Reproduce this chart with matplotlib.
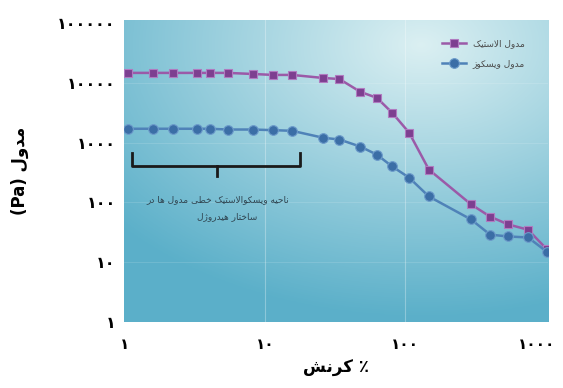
import numpy as np
import matplotlib
matplotlib.use("Agg")
import matplotlib.pyplot as plt
from matplotlib.transforms import ScaledTranslation

# strain sweep: strain (%) and the two moduli (Pa)
strain = [1.05, 1.58, 2.2, 3.27, 4.05, 5.4, 8.2, 11.4, 15.6, 26, 34, 48, 63, 81,
          107, 148, 296, 405, 544, 756, 1030]
elastic = [14700, 14700, 14700, 14700, 14700, 14700, 14100, 13600, 13600, 12100,
           11600, 7080, 5620, 3160, 1470, 355, 93, 58, 43, 35, 16.5]
viscous = [1710, 1710, 1710, 1710, 1710, 1660, 1660, 1620, 1580, 1210, 1130,
           860, 630, 400, 260, 126, 52, 29, 27, 26, 15]

x_ticks = [1, 10, 100, 1000]
x_tick_labels = ["۱", "۱۰", "۱۰۰", "۱۰۰۰"]
y_ticks = [1, 10, 100, 1000, 10000, 100000]
y_tick_labels = ["۱", "۱۰", "۱۰۰", "۱۰۰۰", "۱۰۰۰۰", "۱۰۰۰۰۰"]

series_names = ["مدول الاستیک", "مدول ویسکوز"]
note_lines = ["ناحیه ویسکوالاستیک خطی مدول ها در", "ساختار هیدروژل"]

# contextual forms: (isolated, final, initial, medial); two forms = joins only to the right
FORMS = {
    "ا": (0xFE8D, 0xFE8E), "ب": (0xFE8F, 0xFE90, 0xFE91, 0xFE92),
    "ت": (0xFE95, 0xFE96, 0xFE97, 0xFE98), "ح": (0xFEA1, 0xFEA2, 0xFEA3, 0xFEA4),
    "خ": (0xFEA5, 0xFEA6, 0xFEA7, 0xFEA8), "د": (0xFEA9, 0xFEAA),
    "ر": (0xFEAD, 0xFEAE), "ز": (0xFEAF, 0xFEB0), "ژ": (0xFB8A, 0xFB8B),
    "س": (0xFEB1, 0xFEB2, 0xFEB3, 0xFEB4), "ش": (0xFEB5, 0xFEB6, 0xFEB7, 0xFEB8),
    "ط": (0xFEC1, 0xFEC2, 0xFEC3, 0xFEC4), "ع": (0xFEC9, 0xFECA, 0xFECB, 0xFECC),
    "ف": (0xFED1, 0xFED2, 0xFED3, 0xFED4), "ق": (0xFED5, 0xFED6, 0xFED7, 0xFED8),
    "ک": (0xFB8E, 0xFB8F, 0xFB90, 0xFB91), "ل": (0xFEDD, 0xFEDE, 0xFEDF, 0xFEE0),
    "م": (0xFEE1, 0xFEE2, 0xFEE3, 0xFEE4), "ن": (0xFEE5, 0xFEE6, 0xFEE7, 0xFEE8),
    "و": (0xFEED, 0xFEEE), "ه": (0xFEE9, 0xFEEA, 0xFEEB, 0xFEEC),
    "ی": (0xFBFC, 0xFBFD, 0xFBFE, 0xFBFF),
}


def joins_next(c):
    return c in FORMS and len(FORMS[c]) == 4


def shape(text):
    out = []
    i = 0
    while i < len(text):
        c = text[i]
        if c not in FORMS:
            out.append(c)
            i += 1
            continue
        from_prev = i > 0 and joins_next(text[i - 1])
        if c == "ل" and i + 1 < len(text) and text[i + 1] == "ا":
            out.append(chr(0xFEFC if from_prev else 0xFEFB))
            i += 2
            continue
        to_next = joins_next(c) and i + 1 < len(text) and text[i + 1] in FORMS
        f = FORMS[c]
        if from_prev and to_next:
            g = f[3]
        elif from_prev:
            g = f[1]
        elif to_next:
            g = f[2]
        else:
            g = f[0]
        out.append(chr(g))
        i += 1
    return "".join(out)


def rtl(text):
    return shape(text)[::-1]


plt.rcParams["font.family"] = ["DejaVu Sans"]

fig = plt.figure(figsize=(5.63, 3.88), dpi=100)
ax = fig.add_axes([0.2202, 0.170, 0.7532, 0.778])

# soft blue panel, brighter toward the upper right
yy, xx = np.mgrid[0:1:200j, 0:1:300j]
t = np.clip(np.sqrt(((xx - 0.7) / 0.95) ** 2 + ((yy - 0.92) / 0.9) ** 2), 0, 1)
light = np.array([0.86, 0.94, 0.95])
dark = np.array([0.36, 0.69, 0.79])
bg = light * (1 - t[..., None]) + dark * t[..., None]
ax.imshow(bg, extent=[0, 1, 0, 1], transform=ax.transAxes, origin="lower",
          aspect="auto", zorder=0)

ax.set_xscale("log")
ax.set_yscale("log")
ax.set_xlim(0.984, 1050)
ax.set_ylim(1, 1.12e5)

for v in [10, 100]:
    ax.axvline(v, color="white", lw=0.8, alpha=0.3, zorder=1)
for v in [10, 100, 1000, 10000]:
    ax.axhline(v, color="white", lw=0.6, alpha=0.15, zorder=1)

ax.plot(strain, elastic, color="#9b5aa8", lw=1.8, marker="s", ms=6,
        mfc="#7d3f90", mec="#b07ac0", mew=0.8, zorder=3, label=rtl(series_names[0]))
ax.plot(strain, viscous, color="#4f82b8", lw=1.8, marker="o", ms=7,
        mfc="#3b6ea6", mec="#6d9ccb", mew=0.8, zorder=3, label=rtl(series_names[1]))

# bracket over the linear viscoelastic region
bx0, bx1, bmid = 1.12, 17.8, 4.54
by, btop, bdown = 414, 681, 282
ax.plot([bx0, bx0, bx1, bx1], [btop, by, by, btop], color="#1a1a1a", lw=2,
        solid_joinstyle="round", zorder=4)
ax.plot([bmid, bmid], [by, bdown], color="#1a1a1a", lw=2, zorder=4)
ax.text(4.6, 112, rtl(note_lines[0]), fontsize=6.5, color="#2f4450",
        ha="center", va="center", zorder=4)
ax.text(5.4, 58, rtl(note_lines[1]), fontsize=6.5, color="#2f4450",
        ha="center", va="center", zorder=4)

leg = ax.legend(loc="upper right", bbox_to_anchor=(0.965, 0.965), frameon=False,
                fontsize=6.5, labelcolor="#4a4a4a", handlelength=2.6,
                handletextpad=0.8, labelspacing=1.2)

for s in ax.spines.values():
    s.set_visible(False)
ax.minorticks_off()
ax.set_xticks(x_ticks)
ax.set_xticklabels(x_tick_labels, fontsize=11, fontweight="bold")
ax.set_yticks(y_ticks)
ax.set_yticklabels(y_tick_labels, fontsize=11.5, fontweight="bold")
ax.tick_params(length=0, axis="x", pad=11)
ax.tick_params(length=0, axis="y", pad=6)
# nudge the last strain label left so it stays inside the figure
last = ax.get_xticklabels()[-1]
last.set_transform(last.get_transform() + ScaledTranslation(-6 / 72, 0, fig.dpi_scale_trans))

ax.set_xlabel(rtl("کرنش") + " ٪", fontsize=12, fontweight="bold", labelpad=5)
ax.set_ylabel("(Pa) " + rtl("مدول"), fontsize=12, fontweight="bold", labelpad=20)

fig.savefig("out.png", dpi=100)
